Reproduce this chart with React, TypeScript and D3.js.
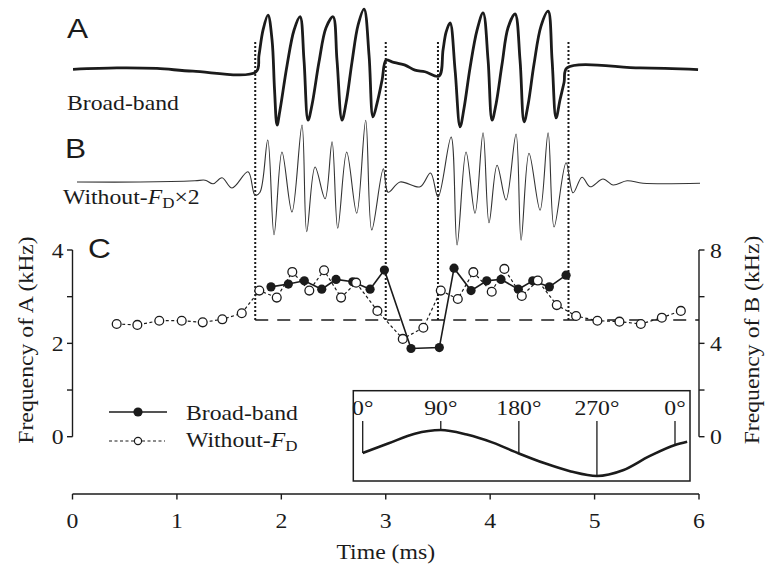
import React from "react";
import * as d3 from "d3";

// ---------- data ----------
const timeTicks = [0, 1, 2, 3, 4, 5, 6];
const leftTicks = [0, 1, 2, 3, 4];
const leftLabels = [0, 2, 4];
const rightTicks = [0, 2, 4, 6, 8];
const rightLabels = [0, 4, 8];

// trace A (broad-band waveform) time (ms) / amplitude
const traceAT = [0.005, 0.426, 0.809, 1.154, 1.758, 1.786, 1.825, 1.872, 1.911, 1.935, 1.959, 1.987, 2.055, 2.122, 2.179, 2.217, 2.256, 2.294, 2.361, 2.428, 2.495, 2.533, 2.581, 2.62, 2.677, 2.735, 2.792, 2.84, 2.878, 2.917, 2.965, 3.003, 3.06, 3.185, 3.28, 3.376, 3.51, 3.549, 3.578, 3.616, 3.664, 3.712, 3.75, 3.807, 3.875, 3.932, 3.98, 4.018, 4.056, 4.114, 4.171, 4.238, 4.286, 4.325, 4.363, 4.42, 4.487, 4.555, 4.593, 4.631, 4.669, 4.708, 4.736, 5.435, 5.991];
const traceAV = [-0.005, 0.02, 0.01, -0.04, -0.05, 0.25, 0.71, 0.98, 0.53, -0.38, -1.02, -0.75, 0.07, 0.71, 0.95, 0.16, -0.93, -0.65, 0.13, 0.75, 0.95, 0.16, -0.93, -0.62, 0.13, 0.8, 1.09, 0.25, -0.87, -0.62, -0.2, 0.16, 0.13, 0.07, -0.02, -0.05, -0.13, 0.35, 0.67, 0.84, -0.02, -1.05, -0.71, 0.02, 0.71, 1.02, 0.16, -0.93, -0.64, 0.09, 0.75, 1.0, 0.16, -0.96, -0.65, 0.09, 0.78, 1.05, 0.16, -0.89, -0.56, -0.24, 0.02, 0.02, -0.01];

// trace B (without-FD x2) time (ms) / amplitude
const traceBT = [0.043, 0.647, 1.173, 1.27, 1.346, 1.432, 1.528, 1.681, 1.748, 1.796, 1.87, 1.93, 2.006, 2.102, 2.198, 2.243, 2.323, 2.419, 2.486, 2.54, 2.626, 2.722, 2.808, 2.866, 2.977, 3.022, 3.137, 3.329, 3.429, 3.501, 3.626, 3.683, 3.769, 3.855, 3.932, 3.989, 4.066, 4.152, 4.248, 4.296, 4.372, 4.478, 4.555, 4.612, 4.727, 4.794, 4.88, 4.957, 5.081, 5.177, 5.311, 5.464, 6.01];
const traceBV = [0, 0, 0.02, 0.03, -0.03, 0.07, -0.1, 0.17, -0.22, -0.17, 0.7, -0.88, 0.5, -0.5, 0.95, -0.83, 0.25, -0.28, 0.67, -0.77, 0.5, -0.52, 1.03, -0.8, 0.22, -0.17, 0.0, -0.08, 0.15, -0.25, 0.75, -1.05, 0.5, -0.52, 0.82, -0.68, 0.28, -0.3, 0.8, -0.97, 0.48, -0.47, 0.82, -0.75, 0.32, -0.18, 0.08, -0.08, 0.05, -0.05, 0.02, -0.02, -0.02];

// panel C: broad-band (filled, left axis, kHz)
const bbTime = [1.901, 2.067, 2.22, 2.387, 2.524, 2.684, 2.85, 2.987, 3.242, 3.513, 3.654, 3.817, 3.967, 4.104, 4.27, 4.408, 4.567, 4.727];
const bbFreq = [3.21, 3.27, 3.34, 3.16, 3.37, 3.32, 3.16, 3.57, 1.89, 1.91, 3.61, 3.13, 3.34, 3.37, 3.16, 3.34, 3.21, 3.46];

// panel C: without-FD (open, right axis, kHz)
const woTime = [0.423, 0.621, 0.831, 1.046, 1.247, 1.435, 1.621, 1.789, 1.956, 2.105, 2.268, 2.409, 2.572, 2.716, 2.92, 3.163, 3.36, 3.527, 3.69, 3.839, 4.015, 4.136, 4.303, 4.456, 4.638, 4.823, 5.027, 5.238, 5.443, 5.644, 5.826];
const woFreq = [4.83, 4.79, 4.97, 4.97, 4.9, 5.03, 5.29, 6.26, 5.96, 7.06, 6.26, 7.13, 5.96, 6.6, 5.39, 4.19, 4.67, 6.26, 5.9, 7.05, 6.21, 7.19, 6.03, 6.69, 5.64, 5.17, 4.97, 4.93, 4.83, 5.1, 5.39];

const boundaryTimes = [1.75, 3.0, 3.5, 4.75];
const refFreqB = 5;

// inset phase curve
const insetPhase = [0, 30, 60, 90, 120, 150, 180, 210, 240, 270, 300, 330, 360, 374];
const insetValue = [0, 0.42, 0.84, 1, 0.8, 0.45, -0.02, -0.45, -0.8, -1, -0.75, -0.15, 0.35, 0.49];
const insetMarks = [0, 90, 180, 270, 360];
const insetLabels = ["0°", "90°", "180°", "270°", "0°"];

// ---------- layout ----------
const W = 775, H = 569;
const INK = "#1b1b1b";
const SERIF = "'Liberation Serif', 'Times New Roman', serif";
const SANS = "'Liberation Sans', Arial, sans-serif";
const SX = 1.13;
const FS = 21;

const x = d3.scaleLinear().domain([0, 6]).range([72.5, 699]);
const yA = d3.scaleLinear().domain([0, 4]).range([436.7, 250]);
const yB = d3.scaleLinear().domain([0, 8]).range([436.7, 250]);
const yTA = d3.scaleLinear().domain([-1, 1]).range([124, 14]);
const yTB = d3.scaleLinear().domain([-1, 1]).range([242, 122]);
const ix = d3.scaleLinear().domain([0, 360]).range([362.7, 675]);
const iy = d3.scaleLinear().domain([-1, 1]).range([476, 430]);

function T(props: any) {
  const { x: tx, y: ty, rot, anchor, size, family, children, ...rest } = props;
  return (
    <text
      transform={`translate(${tx},${ty})${rot ? ` rotate(${rot})` : ""} scale(${SX},1)`}
      textAnchor={anchor || "start"}
      fontSize={size || FS}
      fontFamily={family || SERIF}
      fill={INK}
      {...rest}
    >
      {children}
    </text>
  );
}

export default function App() {
  const aPts = traceAT.map((t, i) => [x(t), yTA(traceAV[i])] as [number, number]);
  const bPts = traceBT.map((t, i) => [x(t), yTB(traceBV[i])] as [number, number]);
  const lineA = d3.line().curve(d3.curveCatmullRom.alpha(0.5))(aPts) || "";
  const lineB = d3.line().curve(d3.curveCatmullRom.alpha(0.5))(bPts) || "";
  const bbPts = bbTime.map((t, i) => [x(t), yA(bbFreq[i])] as [number, number]);
  const woPts = woTime.map((t, i) => [x(t), yB(woFreq[i])] as [number, number]);
  const bbLine = d3.line()(bbPts) || "";
  const woLine = d3.line()(woPts) || "";
  const insetPts = insetPhase.map((p, i) => [ix(p), iy(insetValue[i])] as [number, number]);
  const insetLine = d3.line().curve(d3.curveMonotoneX)(insetPts) || "";
  const insetAt = (p: number) => {
    const i = insetPhase.indexOf(p);
    return iy(insetValue[i]);
  };

  const refY = yB(refFreqB);
  const axisY = 494;

  return (
    <svg width={W} height={H} style={{ position: "absolute", left: 0, top: 0, background: "#fff" }}>
      <rect width={W} height={H} fill="#fff" />

      {/* panel letters */}
      <T x={67} y={38} size={28} family={SANS}>A</T>
      <T x={65} y={158} size={28} family={SANS}>B</T>
      <T x={88} y={258} size={28} family={SANS}>C</T>

      <T x={67} y={110}>Broad-band</T>
      <T x={63} y={204}>
        Without-<tspan fontStyle="italic">F</tspan>
        <tspan fontSize={15} dy={4}>D</tspan>
        <tspan dy={-4}>×2</tspan>
      </T>

      {/* boundary dotted lines */}
      {boundaryTimes.map((t, i) => (
        <line key={i} x1={x(t)} x2={x(t)} y1={42} y2={refY} stroke={INK} strokeWidth={2} strokeDasharray="2,2" />
      ))}

      {/* reference dashed line */}
      <line x1={x(1.75)} x2={x(6)} y1={refY} y2={refY} stroke={INK} strokeWidth={1.3} strokeDasharray="13,9" />

      {/* traces */}
      <path d={lineA} fill="none" stroke={INK} strokeWidth={2.8} strokeLinejoin="round" />
      <path d={lineB} fill="none" stroke="#333" strokeWidth={1.1} strokeLinejoin="round" />

      {/* panel C series */}
      <path d={woLine} fill="none" stroke={INK} strokeWidth={1.2} strokeDasharray="3,2.5" />
      <path d={bbLine} fill="none" stroke={INK} strokeWidth={1.6} />
      {bbPts.map((p, i) => (
        <circle key={"b" + i} cx={p[0]} cy={p[1]} r={4.6} fill={INK} />
      ))}
      {woPts.map((p, i) => (
        <circle key={"w" + i} cx={p[0]} cy={p[1]} r={4.4} fill="#fff" stroke={INK} strokeWidth={1.3} />
      ))}

      {/* left axis */}
      <line x1={x(0)} x2={x(0)} y1={yA(0)} y2={yA(4)} stroke={INK} strokeWidth={1.4} />
      {leftTicks.map((v) => (
        <line key={v} x1={x(0) - 5.5} x2={x(0)} y1={yA(v)} y2={yA(v)} stroke={INK} strokeWidth={1.4} />
      ))}
      {leftLabels.map((v) => (
        <T key={v} x={x(0) - 9} y={yA(v) + 7.5} anchor="end">{v}</T>
      ))}
      <T x={33} y={340} rot={-90} anchor="middle">Frequency of A (kHz)</T>

      {/* right axis */}
      <line x1={x(6)} x2={x(6)} y1={yB(0)} y2={yB(8)} stroke={INK} strokeWidth={1.4} />
      {rightTicks.map((v) => (
        <line key={v} x1={x(6)} x2={x(6) + 5.5} y1={yB(v)} y2={yB(v)} stroke={INK} strokeWidth={1.4} />
      ))}
      {rightLabels.map((v) => (
        <T key={v} x={x(6) + 11} y={yB(v) + 7.5}>{v}</T>
      ))}
      <T x={759} y={340} rot={-90} anchor="middle">Frequency of B (kHz)</T>

      {/* x axis */}
      <line x1={x(0)} x2={x(6)} y1={axisY} y2={axisY} stroke={INK} strokeWidth={1.4} />
      {timeTicks.map((v) => (
        <line key={v} x1={x(v)} x2={x(v)} y1={axisY} y2={axisY + 5.5} stroke={INK} strokeWidth={1.4} />
      ))}
      {timeTicks.map((v) => (
        <T key={v} x={x(v)} y={528} anchor="middle">{v}</T>
      ))}
      <T x={x(3)} y={559} anchor="middle">Time (ms)</T>

      {/* legend */}
      <line x1={109} x2={167} y1={412} y2={412} stroke={INK} strokeWidth={1.5} />
      <circle cx={138} cy={412} r={4.6} fill={INK} />
      <T x={186} y={419.5}>Broad-band</T>
      <line x1={109} x2={165} y1={441} y2={441} stroke={INK} strokeWidth={1.2} strokeDasharray="3,2.5" />
      <circle cx={138} cy={441} r={3.6} fill="#fff" stroke={INK} strokeWidth={1.2} />
      <T x={186} y={447}>
        Without-<tspan fontStyle="italic">F</tspan>
        <tspan fontSize={15} dy={4}>D</tspan>
      </T>

      {/* inset */}
      <rect x={353.3} y={390.7} width={336.7} height={90.3} fill="none" stroke={INK} strokeWidth={1.5} />
      {insetMarks.map((p, i) => (
        <g key={i}>
          <line x1={ix(p)} x2={ix(p)} y1={421} y2={insetAt(p)} stroke={INK} strokeWidth={1.3} />
          <T x={ix(p)} y={415} anchor="middle">{insetLabels[i]}</T>
        </g>
      ))}
      <path d={insetLine} fill="none" stroke={INK} strokeWidth={2.6} strokeLinejoin="round" />
    </svg>
  );
}
